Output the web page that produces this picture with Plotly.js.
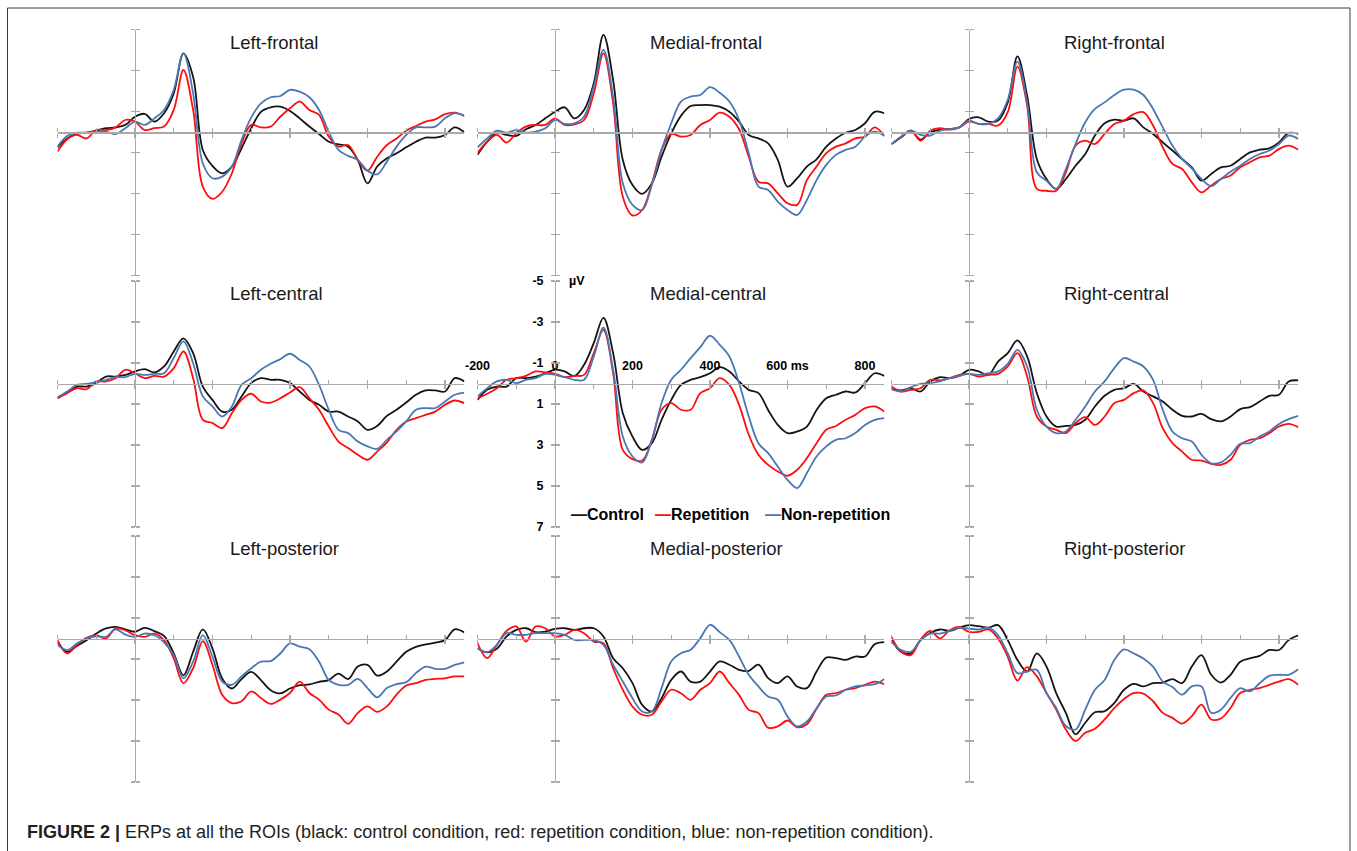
<!DOCTYPE html>
<html>
<head>
<meta charset="utf-8">
<script src="https://cdn.plot.ly/plotly-3.0.1.min.js"></script>
<style>html,body{margin:0;padding:0;background:#fff;}#chart{width:1357px;height:851px;}</style>
</head>
<body>
<div id="chart"></div>
<script>
// ---- Data (µV; time in ms) ----
const times = [-200,-175,-150,-125,-100,-75,-50,-25,0,25,50,75,100,125,150,175,200,225,250,275,300,325,350,375,400,425,450,475,500,525,550,575,600,625,650,675,700,725,750,775,800,825,850];

const seriesNames = ["Control", "Repetition", "Non-repetition"];
const panelTitles = ["Left-frontal","Medial-frontal","Right-frontal","Left-central","Medial-central","Right-central","Left-posterior","Medial-posterior","Right-posterior"];

// Left-frontal
const lfControl = [0.73,0.3,0.08,0.02,-0.08,-0.2,-0.24,-0.36,-0.76,-0.9,-0.52,-0.93,-1.9,-3.85,-2.7,0.86,1.64,2.0,1.67,0.78,-0.2,-1.0,-1.22,-1.25,-1.04,-0.68,-0.28,0.08,0.46,0.59,0.7,1.35,2.49,1.67,1.27,1.02,0.73,0.46,0.26,0.26,0.13,-0.24,0];
const lfRepetition = [0.94,0.34,0.13,0.3,-0.11,-0.11,-0.24,-0.6,-0.52,-0.11,-0.2,-0.28,-1.09,-3.04,-1.09,2.65,3.25,2.9,2.0,0.54,-0.36,-0.24,-0.28,-0.76,-1.17,-1.5,-1.09,-0.85,0.21,0.7,0.62,1.35,1.87,1.19,0.62,0.3,-0.08,-0.31,-0.52,-0.63,-0.89,-0.96,-0.8];
const lfNonRepetition = [0.7,0.18,0.02,0.02,-0.03,-0.03,0.08,-0.2,-0.52,-0.36,-0.68,-1.09,-2.07,-3.85,-1.9,1.51,2.24,2.16,1.67,0.37,-0.73,-1.41,-1.71,-1.77,-2.07,-1.98,-1.71,-1.09,-0.03,0.86,1.15,1.35,1.87,2.05,1.43,0.7,0.13,-0.24,-0.24,-0.28,-0.68,-0.93,-0.8];

// Medial-frontal
const mfControl = [1.1,0.46,0.02,0.13,0.18,-0.15,-0.36,-0.68,-1.0,-1.22,-0.68,-1.09,-2.39,-4.75,-2.55,1.35,2.57,3.0,2.49,1.19,0.05,-0.8,-1.28,-1.33,-1.33,-1.25,-1.0,-0.52,0.13,0.3,0.54,1.35,2.65,2.24,1.67,1.32,0.7,0.3,0.02,-0.11,-0.44,-1.0,-0.93];
const mfRepetition = [1.0,0.46,0.13,0.5,0.05,-0.28,-0.36,-0.36,-0.68,-0.36,-0.39,-0.6,-1.9,-3.85,-1.41,3.14,4.05,3.79,2.49,0.86,0.08,0.21,0.13,-0.36,-0.6,-0.96,-0.76,-0.15,1.19,2.41,2.49,2.98,3.46,3.54,2.33,1.67,1.02,0.7,0.54,0.3,0.21,-0.24,0.18];
const mfNonRepetition = [0.73,0.3,-0.08,0.02,-0.11,0.02,-0.03,-0.2,-0.6,-0.41,-0.44,-0.76,-2.23,-4.02,-1.74,2.49,3.54,3.79,2.57,0.86,-0.44,-1.5,-1.74,-1.82,-2.2,-1.93,-1.5,-0.6,1.02,2.65,2.81,3.38,3.79,4.03,3.3,2.33,1.59,1.1,0.86,0.7,0.21,-0.03,0.18];

// Right-frontal
const rfControl = [0.57,0.24,-0.08,0.36,0,-0.13,-0.16,-0.24,-0.65,-0.73,-0.52,-0.57,-1.46,-3.7,-1.79,1.3,2.28,2.76,2.28,1.63,1.06,0.16,-0.44,-0.62,-0.57,-0.68,-0.24,0.08,0.49,0.89,1.3,1.71,2.36,2.03,1.71,1.63,1.3,0.98,0.85,0.78,0.49,0.03,0.08];
const rfRepetition = [0.57,0.24,-0.08,0.41,-0.08,-0.2,-0.13,-0.24,-0.52,-0.41,-0.41,-0.33,-0.98,-3.2,-1.3,2.76,2.85,2.85,1.95,0.65,0.41,0.57,0.08,-0.41,-0.57,-0.89,-0.98,-0.33,0.73,1.54,1.79,2.44,2.93,2.6,2.28,2.11,1.71,1.46,1.22,1.14,0.81,0.65,0.85];
const rfNonRepetition = [0.57,0.2,-0.08,0.13,0.16,-0.08,-0.16,-0.24,-0.57,-0.41,-0.41,-0.68,-1.59,-3.45,-1.46,1.95,2.36,2.76,1.79,0.57,-0.49,-1.14,-1.46,-1.82,-2.08,-2.08,-1.82,-1.14,-0.24,0.65,1.3,1.76,2.28,2.63,2.28,1.92,1.63,1.3,1.06,0.89,0.57,0.16,0.33];

// Left-central
const lcControl = [0.72,0.44,0.15,0.15,-0.02,-0.34,-0.34,-0.42,-0.59,-0.7,-0.54,-0.83,-1.56,-2.2,-1.48,0.15,0.8,1.37,1.28,0.63,-0.02,-0.26,-0.18,-0.18,-0.02,0.39,0.8,1.04,1.37,1.37,1.61,1.85,2.26,2.07,1.58,1.28,0.93,0.55,0.34,0.34,0.39,-0.26,-0.1];
const lcRepetition = [0.72,0.47,0.23,0.28,-0.1,-0.1,-0.26,-0.67,-0.5,-0.26,-0.37,-0.34,-0.75,-1.56,-0.26,1.77,1.93,2.18,1.45,0.8,0.5,0.88,0.93,0.72,0.44,0.18,0.72,1.28,2.1,2.83,3.15,3.48,3.72,3.32,2.88,2.26,1.85,1.69,1.53,1.37,1.04,0.83,0.96];
const lcNonRepetition = [0.67,0.39,0.07,0.02,-0.05,-0.18,-0.31,-0.31,-0.47,-0.42,-0.47,-0.5,-1.24,-2.05,-0.99,0.63,1.12,1.61,1.12,0.07,-0.26,-0.67,-0.96,-1.19,-1.45,-1.15,-0.83,0.07,1.28,2.26,2.42,2.83,3.07,3.19,2.75,2.34,1.85,1.28,1.2,1.2,0.88,0.55,0.44];

// Medial-central
const mcControl = [0.8,0.31,0.15,0.15,-0.26,-0.26,-0.34,-0.5,-0.67,-0.59,-0.37,-0.91,-1.97,-3.2,-1.48,1.45,2.59,3.24,2.91,1.77,0.8,0.07,-0.18,-0.31,-0.5,-0.8,-0.59,-0.1,0.31,0.47,1.29,2.02,2.42,2.34,2.1,1.29,0.72,0.55,0.39,0.44,-0.02,-0.5,-0.37];
const mcRepetition = [0.72,0.5,0.23,-0.18,-0.26,-0.37,-0.59,-0.54,-0.47,-0.31,-0.37,-0.42,-1.48,-2.62,-0.5,3.24,3.69,3.76,2.75,1.28,0.96,1.28,1.28,0.47,0.23,-0.26,0.07,1.04,2.5,3.48,3.97,4.29,4.5,4.21,3.64,2.91,2.26,2.07,1.77,1.53,1.2,1.12,1.37];
const mcNonRepetition = [0.63,0.23,-0.1,-0.18,-0.02,-0.18,-0.26,-0.47,-0.42,-0.31,-0.18,-0.18,-1.32,-2.72,-0.67,2.59,3.56,3.85,2.75,0.96,-0.18,-0.67,-1.24,-1.77,-2.33,-1.89,-1.32,-0.02,1.61,2.91,3.4,4.05,4.7,5.1,4.37,3.56,3.07,2.75,2.67,2.42,2.02,1.77,1.69];

// Right-central
const rcControl = [0.28,0.34,0.23,0.39,-0.1,-0.31,-0.26,-0.37,-0.67,-0.59,-0.42,-1.07,-1.48,-2.1,-1.32,0.47,1.61,2.1,2.07,2.02,1.77,1.12,0.6,0.31,0.23,0.02,0.39,0.63,0.88,1.28,1.58,1.61,1.48,1.74,1.85,1.61,1.25,1.15,0.88,0.6,0.55,-0.1,-0.15];
const rcRepetition = [0.15,0.39,0.31,0.23,-0.18,-0.15,-0.26,-0.42,-0.47,-0.34,-0.42,-0.47,-0.83,-1.48,-0.34,1.61,2.1,2.26,2.42,1.93,1.64,2.02,1.61,0.96,0.8,0.47,0.34,0.96,2.18,2.91,3.32,3.72,3.76,3.92,3.97,3.72,2.99,2.75,2.67,2.42,2.1,1.97,2.13];
const rcNonRepetition = [0.28,0.39,0.18,0.02,-0.02,-0.1,-0.26,-0.37,-0.47,-0.42,-0.5,-0.59,-0.96,-1.64,-0.83,1.28,2.1,2.42,2.34,1.77,1.12,0.39,-0.1,-0.75,-1.24,-1.07,-0.83,-0.18,1.28,2.34,2.67,2.83,3.48,3.89,3.85,3.48,2.94,2.91,2.59,2.34,1.97,1.74,1.58];

// Left-posterior
const lpControl = [0.16,0.65,0.36,0.08,-0.24,-0.49,-0.57,-0.45,-0.33,-0.52,-0.36,-0.13,0.73,1.8,0.65,-0.45,0.49,1.95,2.44,1.98,1.63,2.03,2.52,2.68,2.44,2.28,2.24,2.11,2.03,1.71,1.98,1.37,1.29,1.81,1.61,1.13,0.65,0.41,0.29,0.2,0.08,-0.45,-0.29];
const lpRepetition = [0.08,0.73,0.32,-0.03,-0.16,0,-0.49,-0.4,-0.16,-0.08,-0.24,0.08,0.97,2.18,1.45,0.13,1.29,2.74,3.15,3.06,2.58,2.9,3.19,2.98,2.66,2.1,2.66,2.98,3.47,3.71,4.16,3.63,3.31,3.58,3.31,2.74,2.29,2.18,2.02,1.97,1.94,1.85,1.85];
const lpNonRepetition = [0.32,0.56,0.24,0,-0.11,-0.08,-0.45,-0.19,-0.08,-0.24,-0.16,0.19,0.81,1.94,1.13,-0.16,0.89,2.1,2.26,1.85,1.45,1.13,1.1,0.73,0.24,0.4,0.52,1.13,2.02,2.26,2.26,1.97,2.42,2.87,2.42,2.23,2.13,1.69,1.37,1.48,1.48,1.29,1.16];

// Medial-posterior
const mpControl = [0.47,0.67,0.5,-0.1,-0.42,-0.5,-0.31,-0.34,-0.47,-0.5,-0.42,-0.5,-0.5,-0.1,0.96,1.45,2.18,3.24,3.56,2.91,2.02,1.61,2.1,2.1,1.61,1.12,1.28,1.53,1.58,1.28,1.93,2.18,1.85,2.34,2.42,1.61,0.93,0.96,1.04,0.88,0.88,0.28,0.18];
const mpRepetition = [0.23,0.96,0.31,-0.37,-0.59,0.15,-0.59,-0.5,-0.1,-0.18,-0.42,-0.26,0.15,0.23,1.45,2.5,3.32,3.72,3.72,3.07,2.5,2.67,2.99,2.5,2.18,1.61,2.18,2.75,3.48,3.64,4.35,4.29,4.0,4.33,4.18,3.43,2.75,2.67,2.5,2.42,2.26,2.1,2.23];
const mpNonRepetition = [0.47,0.67,0.31,-0.26,-0.18,-0.18,-0.26,-0.26,-0.26,-0.18,0.07,0.07,0.07,0.31,1.28,2.1,2.91,3.56,3.56,2.42,1.12,0.72,0.55,-0.02,-0.67,-0.31,0.07,0.88,1.77,2.34,2.83,2.99,3.8,4.29,4.05,3.4,2.83,2.78,2.5,2.34,2.29,2.23,1.97];

// Right-posterior
const rpControl = [0.08,0.65,0.73,0.08,-0.27,-0.44,-0.37,-0.53,-0.65,-0.6,-0.53,-0.65,0.08,1.05,1.61,0.73,1.37,2.66,3.63,4.68,4.11,3.6,3.55,3.15,2.5,2.21,2.34,2.18,2.15,1.98,2.18,1.37,0.81,1.77,2.15,1.77,1.13,0.97,0.85,0.56,0.56,0.08,-0.16];
const rpRepetition = [-0.08,0.65,0.81,0.05,-0.37,0,-0.4,-0.56,-0.32,-0.32,-0.44,0,0.89,2.05,1.4,1.85,2.66,3.47,4.44,5.0,4.6,4.4,3.95,3.39,2.95,2.66,2.69,3.06,3.63,3.87,4.15,3.79,3.23,3.95,3.9,3.39,2.66,2.5,2.42,2.26,2.1,1.98,2.26];
const rpNonRepetition = [0.16,0.56,0.65,0.08,-0.24,-0.24,-0.37,-0.53,-0.48,-0.44,-0.53,-0.16,0.73,1.69,1.61,1.53,2.66,3.39,4.27,4.44,3.47,2.5,2.02,1.05,0.53,0.73,0.97,1.37,2.1,2.37,2.74,2.34,2.34,3.63,3.47,2.9,2.42,2.58,2.18,1.82,1.77,1.77,1.5];

const xTickVals = [-200,-100,0,100,200,300,400,500,600,700,800];
const xTickText = ["-200","","0","","200","","400","","600 ms","","800"];
const yTickVals = [-5,-3,-1,1,3,5,7];
const yTickText = ["-5","-3","-1","1","3","5","7"];
const captionBold = "FIGURE 2 |";
const captionText = "ERPs at all the ROIs (black: control condition, red: repetition condition, blue: non-repetition condition).";

// ---- Build ----
const panels = [
  [lfControl, lfRepetition, lfNonRepetition],
  [mfControl, mfRepetition, mfNonRepetition],
  [rfControl, rfRepetition, rfNonRepetition],
  [lcControl, lcRepetition, lcNonRepetition],
  [mcControl, mcRepetition, mcNonRepetition],
  [rcControl, rcRepetition, rcNonRepetition],
  [lpControl, lpRepetition, lpNonRepetition],
  [mpControl, mpRepetition, mpNonRepetition],
  [rpControl, rpRepetition, rpNonRepetition]
];
const colors = ["#141414", "#ff0d0d", "#4a77b4"];

const W = 1357, H = 851;
const colZeroPx = [135, 555, 969];
const rowZeroPx = [132.3, 383.5, 638.5];
const pxPerMs = 0.3875, pxPerUv = 20.5;
const xMin = -200, xMax = 850, yTop = -5, yBottom = 7;
const axisColor = "#a9a9a9";
const labelFont = {family: "Liberation Sans, Arial, sans-serif", size: 12.5, color: "#000", weight: "bold"};

const traces = [];
const layout = {
  width: W, height: H,
  margin: {l: 0, r: 0, t: 0, b: 0},
  paper_bgcolor: "#fff", plot_bgcolor: "rgba(0,0,0,0)",
  showlegend: false,
  hovermode: false,
  annotations: [],
  shapes: []
};

panels.forEach((series, i) => {
  const r = Math.floor(i / 3), c = i % 3;
  const ax = i + 1;
  const xa = "xaxis" + ax, ya = "yaxis" + ax;
  const xr = "x" + ax, yr = "y" + ax;
  const isCenter = (i === 4);
  const x0 = (colZeroPx[c] + xMin * pxPerMs) / W;
  const x1 = (colZeroPx[c] + xMax * pxPerMs) / W;
  const yBot = 1 - (rowZeroPx[r] + yBottom * pxPerUv) / H;
  const yTopF = 1 - (rowZeroPx[r] + yTop * pxPerUv) / H;
  layout[xa] = {
    domain: [x0, x1], range: [xMin, xMax],
    anchor: "free", position: 1 - rowZeroPx[r] / H,
    side: isCenter ? "top" : "bottom",
    showgrid: false, zeroline: false,
    showline: true, linecolor: axisColor, linewidth: 1.3,
    ticks: "outside", ticklen: 4, tickwidth: 1.2, tickcolor: axisColor,
    tickmode: "array", tickvals: xTickVals, ticktext: xTickText,
    minor: {tickmode: "array", tickvals: xTickVals, ticks: "inside", ticklen: 4, tickwidth: 1.2, tickcolor: axisColor, showgrid: false},
    showticklabels: isCenter, tickfont: labelFont, ticklabelstandoff: 5,
    fixedrange: true
  };
  layout[ya] = {
    domain: [yBot, yTopF], range: [yBottom, yTop],
    anchor: "free", position: colZeroPx[c] / W,
    side: "left",
    showgrid: false, zeroline: false,
    showline: true, linecolor: axisColor, linewidth: 1.3,
    ticks: "outside", ticklen: 4, tickwidth: 1.2, tickcolor: axisColor,
    tickmode: "array", tickvals: yTickVals, ticktext: yTickText,
    minor: {tickmode: "array", tickvals: yTickVals, ticks: "inside", ticklen: 4, tickwidth: 1.2, tickcolor: axisColor, showgrid: false},
    showticklabels: isCenter, tickfont: labelFont, ticklabelstandoff: 5,
    fixedrange: true
  };
  series.forEach((vals, k) => {
    traces.push({
      type: "scatter", mode: "lines",
      x: times, y: vals, name: seriesNames[k],
      xaxis: xr, yaxis: yr,
      line: {color: colors[k], width: 1.8, shape: "spline", smoothing: 1},
      hoverinfo: "skip"
    });
  });
  layout.annotations.push({
    xref: xr, yref: yr, x: 240, y: -4.37,
    xanchor: "left", yanchor: "middle", showarrow: false,
    text: panelTitles[i],
    font: {family: "Liberation Sans, Arial, sans-serif", size: 18.5, color: "#1a1a1a"}
  });
});

// unit label and legend on the medial-central panel
layout.annotations.push({
  xref: "x5", yref: "y5", x: 31, y: -5.0, xanchor: "left", yanchor: "middle",
  showarrow: false, text: "µV", font: labelFont
});
const legendX = [36, 253, 537];
seriesNames.forEach((nm, k) => {
  layout.annotations.push({
    xref: "x5", yref: "y5", x: legendX[k], y: 6.37,
    xanchor: "left", yanchor: "middle", showarrow: false,
    text: "<span style='color:" + colors[k] + "'>—</span>" + nm,
    font: {family: "Liberation Sans, Arial, sans-serif", size: 16, color: "#000", weight: "bold"}
  });
});

// caption
layout.annotations.push({
  xref: "paper", yref: "paper", x: 25 / W, y: 1 - 832 / H,
  xanchor: "left", yanchor: "middle", showarrow: false,
  text: "<b>" + captionBold + "</b> " + captionText,
  font: {family: "Liberation Sans, Arial, sans-serif", size: 18, color: "#231f20"}
});

// figure frame
layout.shapes.push({
  type: "rect", xref: "paper", yref: "paper",
  x0: 7.5 / W, x1: 1350 / W, y0: -0.05, y1: 1 - 8 / H,
  line: {color: "#3a3a3a", width: 1}, fillcolor: "rgba(0,0,0,0)", layer: "below"
});

Plotly.newPlot("chart", traces, layout, {staticPlot: true, displayModeBar: false});
</script>
</body>
</html>
